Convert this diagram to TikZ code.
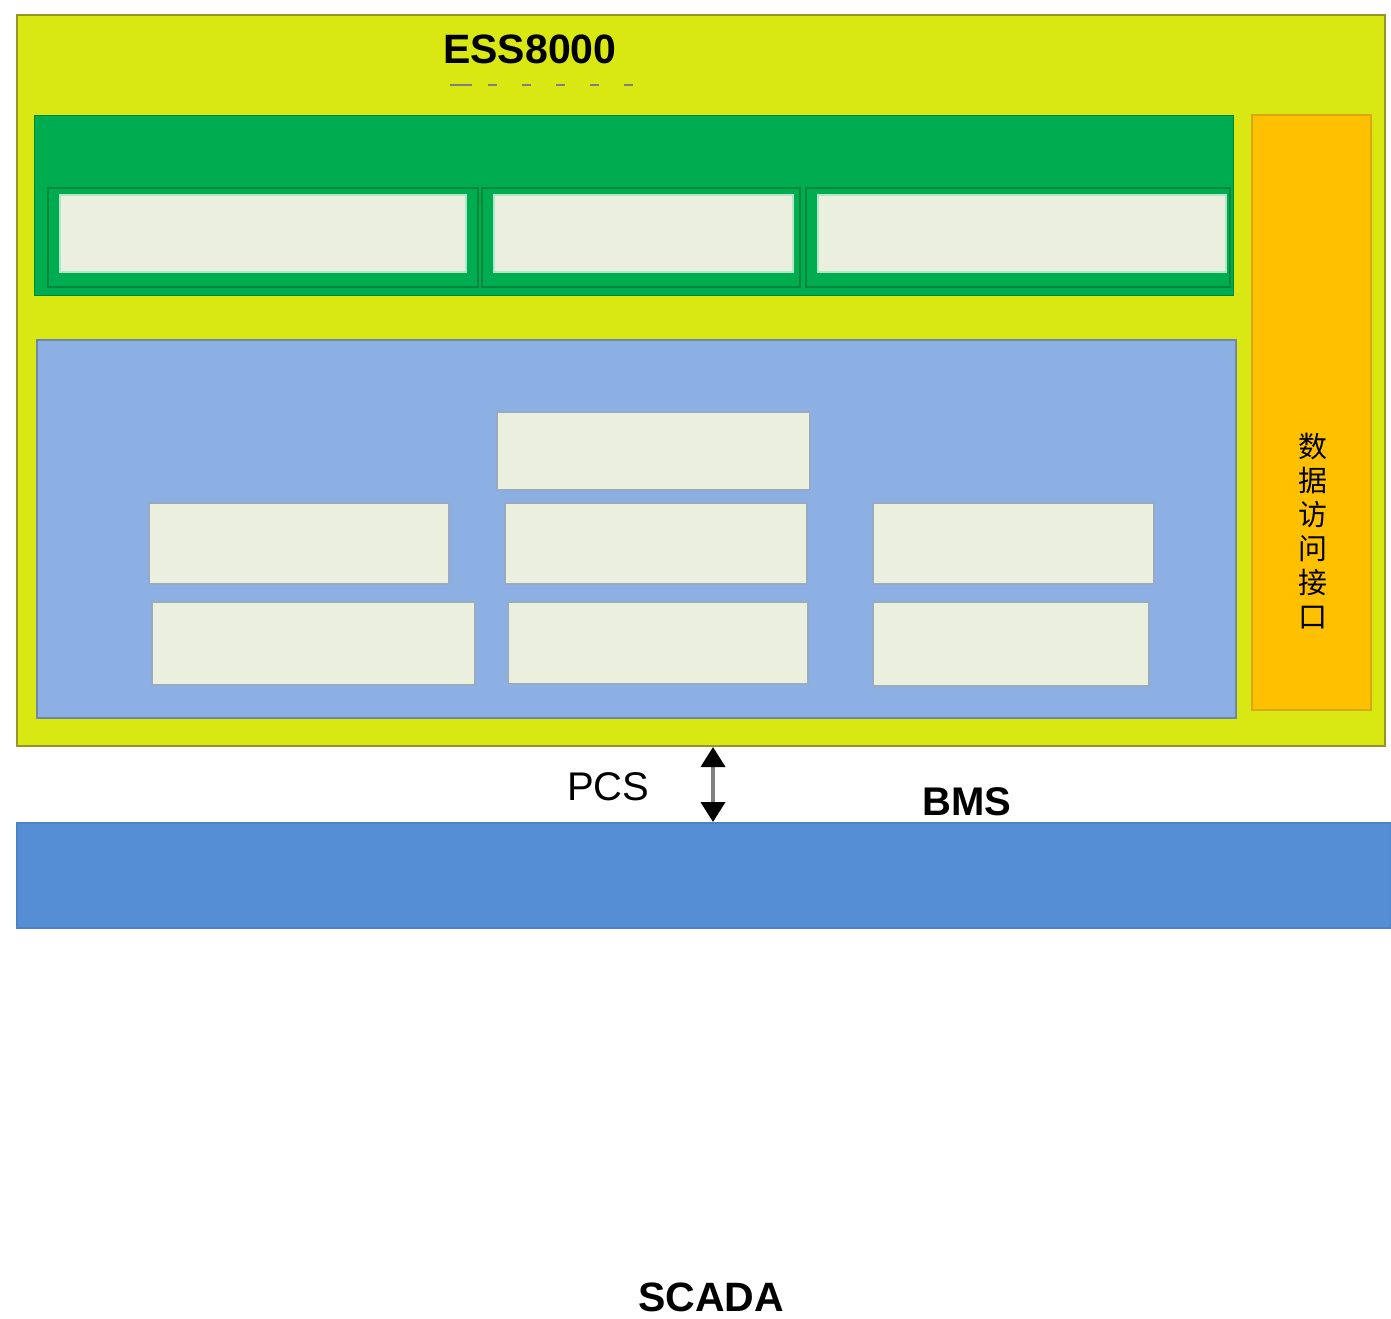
\documentclass[tikz,border=0pt]{standalone}
\usepackage{fontspec}
\setmainfont{Liberation Sans}
\newfontfamily\cjk{Noto Sans CJK SC}
\usetikzlibrary{arrows.meta}
\definecolor{ylw}{RGB}{217,232,18}
\definecolor{ylwedge}{RGB}{150,150,40}
\definecolor{grn}{RGB}{0,172,80}
\definecolor{grndark}{RGB}{0,135,55}
\definecolor{paleb}{RGB}{235,239,222}
\definecolor{skyb}{RGB}{140,176,227}
\definecolor{skyedge}{RGB}{110,135,170}
\definecolor{orng}{RGB}{255,192,0}
\definecolor{orngedge}{RGB}{215,170,20}
\definecolor{barb}{RGB}{85,142,213}
\definecolor{baredge}{RGB}{75,130,200}
\tikzset{
  box/.style={draw, line width=#1, inner sep=0pt, outer sep=0pt},
  greencell/.style={box=2pt, draw=white!70!grn, fill=paleb},
  greenframe/.style={box=2pt, draw=grndark},
  bluecell/.style={box=2.5pt, draw=skyedge!70!white, fill=paleb},
  lbl/.style={inner sep=0pt, font=\fontsize{40}{44}\selectfont},
}
\begin{document}
\begin{tikzpicture}[x=1pt,y=-1pt]
\useasboundingbox (0,0) rectangle (1391,1318);
% outer yellow system box
\node[box=2pt, draw=ylwedge, fill=ylw, minimum width=1368pt, minimum height=731pt, anchor=north west] (ess) at (17,15) {};
\node[lbl, font=\bfseries\fontsize{41}{44}\selectfont, anchor=base west] (title) at (443,63) {ESS8000};
\draw[gray, line width=1.5pt] (450,85) -- (472,85);
\draw[gray, line width=1.5pt, dash pattern=on 9pt off 25pt] (488,85) -- (652,85);
% green band
\node[box=1pt, draw=grndark, fill=grn, minimum width=1199pt, minimum height=180pt, anchor=north west] (band) at (34,115) {};
\node[greenframe, minimum width=430pt, minimum height=99pt, anchor=north west] (f1) at (48,188) {};
\node[greenframe, minimum width=318pt, minimum height=99pt, anchor=north west] (f2) at (482,188) {};
\node[greenframe, minimum width=424pt, minimum height=99pt, anchor=north west] (f3) at (806,188) {};
\node[greencell, minimum width=406pt, minimum height=77pt, anchor=north west] (g1) at (60,195) {};
\node[greencell, minimum width=299pt, minimum height=77pt, anchor=north west] (g2) at (494,195) {};
\node[greencell, minimum width=408pt, minimum height=77pt, anchor=north west] (g3) at (818,195) {};
% blue panel
\node[box=1.5pt, draw=skyedge, fill=skyb, minimum width=1199pt, minimum height=378pt, anchor=north west] (panel) at (37,340) {};
\node[bluecell, minimum width=313pt, minimum height=78pt, anchor=north west] (b0) at (497,412) {};
\node[bluecell, minimum width=300pt, minimum height=81pt, anchor=north west] (b1) at (149,503) {};
\node[bluecell, minimum width=302pt, minimum height=81pt, anchor=north west] (b2) at (505,503) {};
\node[bluecell, minimum width=281pt, minimum height=81pt, anchor=north west] (b3) at (873,503) {};
\node[bluecell, minimum width=323pt, minimum height=83pt, anchor=north west] (b4) at (152,602) {};
\node[bluecell, minimum width=300pt, minimum height=82pt, anchor=north west] (b5) at (508,602) {};
\node[bluecell, minimum width=276pt, minimum height=84pt, anchor=north west] (b6) at (873,602) {};
% data access column
\node[box=1.5pt, draw=orngedge, fill=orng, minimum width=119pt, minimum height=595pt, anchor=north west] (dai) at (1252,115) {};
\node[inner sep=0pt, align=center, font=\cjk\fontsize{29}{34}\selectfont, anchor=north] (daitxt) at (1313,433) {数\\据\\访\\问\\接\\口};
% bottom bar
\node[box=1.5pt, draw=baredge, fill=barb, minimum width=1374pt, minimum height=105pt, anchor=north west] (bar) at (17,823) {};
% labels
\node[lbl, anchor=base west] (pcs) at (567,800) {PCS};
\node[lbl, font=\bfseries\fontsize{40}{44}\selectfont, anchor=base west] (bms) at (922,815) {BMS};
\node[lbl, font=\bfseries\fontsize{41}{44}\selectfont, anchor=base west] (scada) at (638,1311) {SCADA};
% link arrow
\coordinate (up) at (713,747);
\coordinate (dn) at (713,822);
\draw[line width=4pt, gray, {Triangle[length=20pt,width=24pt,color=black]}-{Triangle[length=20pt,width=24pt,color=black]}] (up) -- (dn);
\end{tikzpicture}
\end{document}
